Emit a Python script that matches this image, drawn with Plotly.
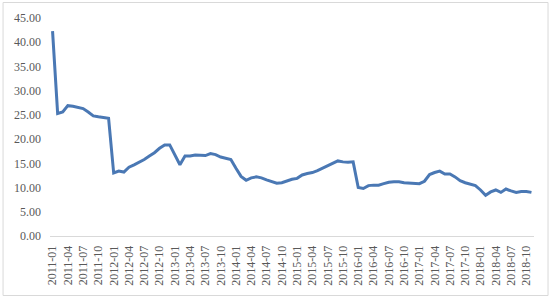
import plotly.graph_objects as go

# Monthly categories 2011-01 .. 2018-11
months = [f"{y}-{m:02d}" for y in range(2011, 2019) for m in range(1, 13)][:95]

values_2011 = [42.3, 25.3, 25.6, 26.9, 26.8, 26.6, 26.3, 25.6, 24.8, 24.6, 24.5, 24.3]
values_2012 = [13.0, 13.4, 13.2, 14.2, 14.7, 15.2, 15.8, 16.5, 17.2, 18.1, 18.8, 18.8]
values_2013 = [16.8, 14.7, 16.5, 16.5, 16.7, 16.6, 16.6, 17.0, 16.8, 16.3, 16.0, 15.8]
values_2014 = [14.0, 12.3, 11.5, 12.0, 12.2, 12.0, 11.6, 11.2, 10.9, 11.0, 11.4, 11.7]
values_2015 = [11.9, 12.6, 12.9, 13.1, 13.5, 14.0, 14.6, 15.1, 15.5, 15.3, 15.2, 15.3]
values_2016 = [10.0, 9.8, 10.4, 10.5, 10.5, 10.8, 11.1, 11.2, 11.2, 11.0, 10.9, 10.8]
values_2017 = [10.8, 11.3, 12.7, 13.1, 13.4, 12.8, 12.8, 12.2, 11.4, 11.0, 10.7, 10.4]
values_2018 = [9.5, 8.4, 9.1, 9.5, 9.0, 9.7, 9.3, 9.0, 9.2, 9.2, 9.0]

values = (values_2011 + values_2012 + values_2013 + values_2014 +
          values_2015 + values_2016 + values_2017 + values_2018)

tick_labels = months[0:94:3]
y_ticks = [0, 5, 10, 15, 20, 25, 30, 35, 40, 45]
y_tick_text = [f"{v:.2f}" for v in y_ticks]

font_family = "Liberation Serif, DejaVu Serif, serif"
text_color = "#595959"

fig = go.Figure()
fig.add_trace(go.Scatter(
    x=months, y=values, mode="lines",
    line=dict(color="#4a78b4", width=3),
    hoverinfo="skip",
))

fig.update_layout(
    width=550, height=300,
    margin=dict(l=50, r=16, t=18, b=64),
    paper_bgcolor="white", plot_bgcolor="white",
    showlegend=False,
    font=dict(family=font_family, size=12, color=text_color),
    xaxis=dict(
        type="category",
        categoryorder="array", categoryarray=months,
        range=[-0.5, len(months) - 0.5],
        tickmode="array", tickvals=tick_labels, ticktext=tick_labels,
        tickangle=-90,
        showgrid=False, zeroline=False,
        showline=True, linecolor="#d9d9d9", linewidth=1,
        ticks="", ticklabelstandoff=4,
        tickfont=dict(family=font_family, size=12, color=text_color),
    ),
    yaxis=dict(
        range=[0, 45],
        tickmode="array", tickvals=y_ticks, ticktext=y_tick_text,
        showgrid=False, zeroline=False, showline=False,
        ticks="", ticklabelstandoff=8,
        tickfont=dict(family=font_family, size=12, color=text_color),
    ),
    shapes=[dict(
        type="rect", xref="paper", yref="paper",
        x0=-0.097, x1=1.029, y0=-0.273, y1=1.071,
        line=dict(color="#d9d9d9", width=1), fillcolor="rgba(0,0,0,0)",
        layer="below",
    )],
)

fig.write_html("out.html")
